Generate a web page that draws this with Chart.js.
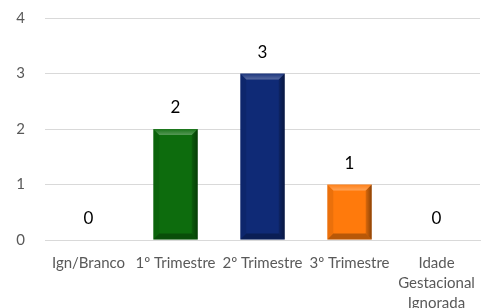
<!DOCTYPE html>
<html>
<head>
<meta charset="utf-8">
<script src="https://cdn.jsdelivr.net/npm/chart.js@4.4.1/dist/chart.umd.min.js"></script>
<style>
  html, body { margin: 0; padding: 0; background: #fff; }
  #wrap { width: 481px; height: 308px; }
</style>
</head>
<body>
<div id="wrap"><canvas id="chart"></canvas></div>
<script>
// Dados do gráfico
const categorias = ['Ign/Branco', '1º Trimestre', '2º Trimestre', '3º Trimestre', ['Idade', 'Gestacional', 'Ignorada']];
const valores = [0, 2, 3, 1, 0];
const cores = ['#7f7f7f', '#0d6c0d', '#0f2a76', '#ff7a0c', '#7f7f7f'];
const yTicks = [0, 1, 2, 3, 4];

// Efeito de bisel nas barras
const bevelPlugin = {
    id: 'bevel',
    afterDatasetsDraw(chart) {
        const ctx = chart.ctx;
        const meta = chart.getDatasetMeta(0);
        meta.data.forEach((bar, i) => {
            if (valores[i] === 0) return;
            const w = bar.width;
            const left = bar.x - w / 2;
            const right = bar.x + w / 2;
            const top = bar.y;
            const bottom = bar.base;
            const b = 6;
            ctx.save();
            // lado direito escuro
            const gr = ctx.createLinearGradient(right - b, 0, right, 0);
            gr.addColorStop(0, 'rgba(0,0,0,0.15)');
            gr.addColorStop(1, 'rgba(0,0,0,0.45)');
            ctx.fillStyle = gr;
            ctx.beginPath();
            ctx.moveTo(right, top); ctx.lineTo(right - b, top + b);
            ctx.lineTo(right - b, bottom - b); ctx.lineTo(right, bottom);
            ctx.closePath(); ctx.fill();
            // lado esquerdo levemente escuro
            ctx.fillStyle = 'rgba(0,0,0,0.08)';
            ctx.beginPath();
            ctx.moveTo(left, top); ctx.lineTo(left + b, top + b);
            ctx.lineTo(left + b, bottom - b); ctx.lineTo(left, bottom);
            ctx.closePath(); ctx.fill();
            // fundo escuro
            ctx.fillStyle = 'rgba(0,0,0,0.28)';
            ctx.beginPath();
            ctx.moveTo(left, bottom); ctx.lineTo(left + b, bottom - b);
            ctx.lineTo(right - b, bottom - b); ctx.lineTo(right, bottom);
            ctx.closePath(); ctx.fill();
            // topo claro
            const g = ctx.createLinearGradient(0, top, 0, top + b);
            g.addColorStop(0, 'rgba(255,255,255,0.05)');
            g.addColorStop(1, 'rgba(255,255,255,0.3)');
            ctx.fillStyle = g;
            ctx.beginPath();
            ctx.moveTo(left, top); ctx.lineTo(right, top);
            ctx.lineTo(right - b, top + b); ctx.lineTo(left + b, top + b);
            ctx.closePath(); ctx.fill();
            ctx.restore();
        });
    }
};

// Rótulos de dados acima das barras
const labelsPlugin = {
    id: 'valueLabels',
    afterDatasetsDraw(chart) {
        const ctx = chart.ctx;
        const meta = chart.getDatasetMeta(0);
        ctx.save();
        ctx.font = '17px Lato, sans-serif';
        ctx.fillStyle = '#000';
        ctx.textAlign = 'center';
        ctx.textBaseline = 'middle';
        meta.data.forEach((bar, i) => {
            ctx.fillText(String(valores[i]), bar.x, bar.y - 21);
        });
        ctx.restore();
    }
};

new Chart(document.getElementById('chart'), {
    type: 'bar',
    data: {
        labels: categorias,
        datasets: [{
            data: valores,
            backgroundColor: cores,
            borderWidth: 0,
            categoryPercentage: 1,
            barPercentage: 0.51
        }]
    },
    options: {
        responsive: true,
        maintainAspectRatio: false,
        animation: false,
        layout: { padding: { top: 18, right: 1, left: 0, bottom: 0 } },
        plugins: {
            legend: { display: false },
            tooltip: { enabled: false }
        },
        scales: {
            y: {
                min: 0,
                max: 4,
                afterBuildTicks: (axis) => { axis.ticks = yTicks.map(v => ({ value: v })); },
                afterFit: (axis) => {
                    axis.width = 45;
                    axis.paddingTop = 0;
                    axis.paddingBottom = 0;
                },
                grid: { color: '#d9d9d9', lineWidth: 1, drawTicks: false },
                border: { display: false },
                ticks: {
                    color: '#595959',
                    padding: 20,
                    font: { family: 'Lato, sans-serif', size: 15 }
                }
            },
            x: {
                afterFit: (axis) => { axis.height = 68; },
                grid: { display: false },
                border: { color: '#d9d9d9', width: 1 },
                ticks: {
                    color: '#595959',
                    maxRotation: 0,
                    autoSkip: false,
                    padding: 5,
                    font: { family: 'Lato, sans-serif', size: 15, lineHeight: 1.33 }
                }
            }
        }
    },
    plugins: [bevelPlugin, labelsPlugin]
});
</script>
</body>
</html>
